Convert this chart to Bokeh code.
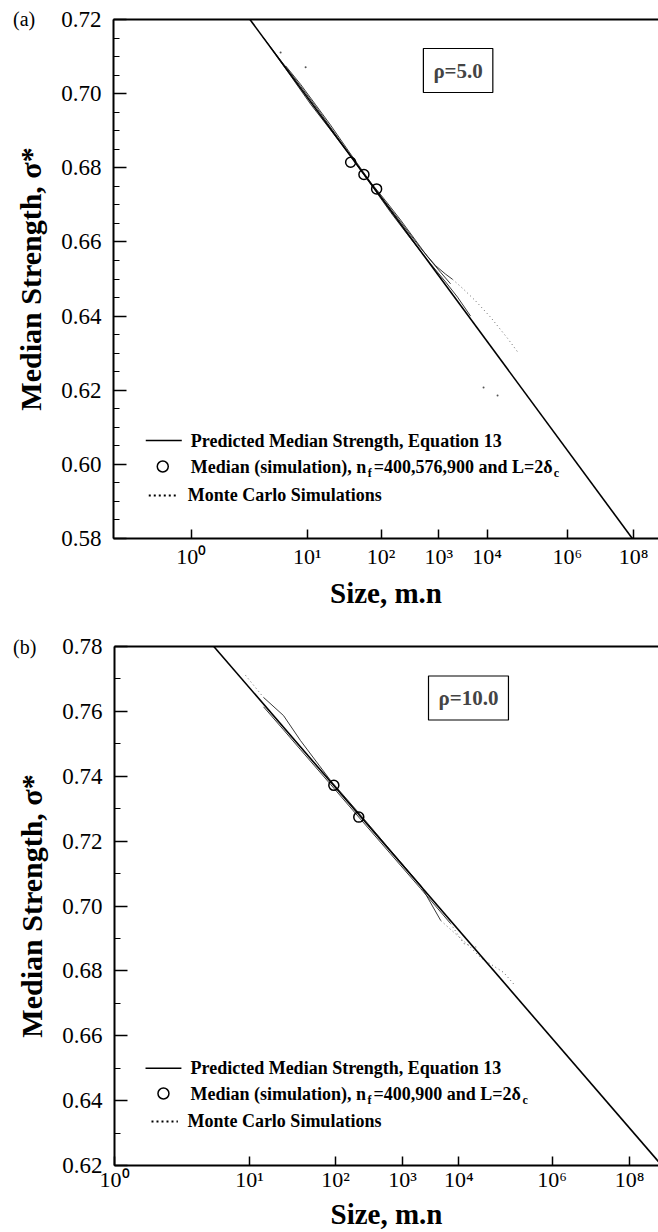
import numpy as np
from bokeh.plotting import figure
from bokeh.layouts import column, row
from bokeh.models import (FixedTicker, CustomJSTickFormatter, SingleIntervalTicker,
                          NumeralTickFormatter, Range1d, LinearAxis, Label, Div)
from bokeh.embed import file_html
from bokeh.resources import INLINE
from bokeh.core.properties import value

SERIF = "Liberation Serif"

# ---------------- data ----------------
tick_exponents = [0, 1, 2, 3, 4, 6, 8]
tick_labels = ["10⁰", "10¹", "10²", "10³", "10⁴", "10⁶", "10⁸"]

# panel (a)  rho = 5.0
a_size_limits = [10 ** -0.343, 10 ** 8.835]
a_strength_limits = [0.58, 0.72]
a_pred_size = [2.66, 9.1e7]
a_pred_strength = [0.72, 0.58]
a_median_size = [35.5, 54.9, 85.1]
a_median_strength = [0.6815, 0.6782, 0.6743]
a_mc1_size = [3.45, 5.15, 8.41, 14.4, 25.9, 49.2, 98.2, 207, 461, 871, 1358, 1866]
a_mc1_strength = [0.7154, 0.7090, 0.7020, 0.6947, 0.6871, 0.6795, 0.6724, 0.6654, 0.6583, 0.6536,
                  0.6513, 0.6499]
a_mc1_tail_size = [1866, 2977, 5593, 11950, 29430, 54020]
a_mc1_tail_strength = [0.6499, 0.6475, 0.6441, 0.6397, 0.6340, 0.6300]
a_mc2_size = [4.11, 6.55, 10.9, 19.2, 35.5, 68.9, 141.5, 306, 702, 1358, 2354, 4379]
a_mc2_strength = [0.7124, 0.7048, 0.6972, 0.6902, 0.6831, 0.6756, 0.6680, 0.6609, 0.6541, 0.6492,
                  0.6451, 0.6400]
a_mc3_size = [5.80, 8.41, 12.54, 19.2, 35.5, 68.9, 117.6, 207, 376, 618, 1086, 1702]
a_mc3_strength = [0.7075, 0.7025, 0.6970, 0.6915, 0.6837, 0.6761, 0.6711, 0.6659, 0.6604, 0.6560,
                  0.6518, 0.6487]
a_mc_scatter_size = [5.15, 9.58, 8353, 17250]
a_mc_scatter_strength = [0.7111, 0.7071, 0.6207, 0.6186]

# panel (b)  rho = 10.0
b_size_limits = [10 ** 0, 10 ** 8.835]
b_strength_limits = [0.62, 0.78]
b_pred_size = [4.70, 6.84e8]
b_pred_strength = [0.78, 0.6212]
b_median_size = [95.0, 211.0]
b_median_strength = [0.7372, 0.7274]
b_mc1_size = [13.9, 22.9, 36, 85.9, 223, 638, 2010, 4590]
b_mc1_strength = [0.7643, 0.7587, 0.7510, 0.7387, 0.7281, 0.7172, 0.7064, 0.6955]
b_mc1_tail_size = [9.16, 13.9]
b_mc1_tail_strength = [0.7711, 0.7643]
b_mc1_tail2_size = [4590, 17000, 26600, 80400, 141000]
b_mc1_tail2_strength = [0.6955, 0.6872, 0.6841, 0.6795, 0.6755]
b_mc2_size = [13.9, 22.9, 36, 85.9, 223, 638, 2010, 6950]
b_mc2_strength = [0.7614, 0.7543, 0.7482, 0.7375, 0.7268, 0.7161, 0.7054, 0.6946]
b_mc2_tail_size = [6950, 12450, 23300]
b_mc2_tail_strength = [0.6946, 0.6884, 0.6872]


# ---------------- size-axis transform of the original figure ----------------
def u_of(size):
    return (np.log10(np.asarray(size, dtype=float)) + 0.5) ** 0.4


def fx(p, f):
    return p.x_range.start + f * (p.x_range.end - p.x_range.start)


def fy(p, f):
    return p.y_range.start + f * (p.y_range.end - p.y_range.start)


def make_panel(width, height, size_limits, strength_limits, n_minor, border_left, border_top,
               border_bottom, x_standoffs):
    lo, hi = u_of(size_limits)
    p = figure(width=width, height=height, output_backend="svg", toolbar_location=None,
               x_range=Range1d(float(lo), float(hi)),
               y_range=Range1d(*strength_limits),
               min_border_left=border_left, min_border_right=0,
               min_border_top=border_top, min_border_bottom=border_bottom)
    p.grid.visible = False
    p.outline_line_color = None
    p.background_fill_color = "white"
    p.border_fill_color = None

    tpos = [float(v) for v in u_of([10.0 ** e for e in tick_exponents])]
    xa = p.xaxis[0]
    xa.ticker = FixedTicker(ticks=tpos, minor_ticks=[])
    xa.formatter = CustomJSTickFormatter(args=dict(tpos=tpos, tlab=tick_labels), code="""
        let best = 0;
        for (let j = 0; j < tpos.length; j++) {
            if (Math.abs(tpos[j] - tick) < Math.abs(tpos[best] - tick)) best = j;
        }
        return tlab[best];
    """)
    xa.axis_label = "Size, m.n"
    ya = p.yaxis[0]
    ya.ticker = SingleIntervalTicker(interval=0.02, num_minor_ticks=n_minor)
    ya.formatter = NumeralTickFormatter(format="0.00")
    ya.axis_label = "Median Strength, σ*"
    for ax in (xa, ya):
        ax.axis_line_width = 2
        ax.axis_line_color = "black"
        ax.major_tick_out = 0
        ax.minor_tick_out = 0
        ax.major_tick_line_width = 1.5
        ax.minor_tick_line_width = 1.2
        ax.major_label_text_font = SERIF
        ax.major_label_text_color = "black"
        ax.axis_label_text_font = SERIF
        ax.axis_label_text_font_style = "bold"
        ax.axis_label_text_color = "black"
    xa.major_tick_in = 9
    xa.major_label_text_font_size = "22px"
    xa.axis_label_text_font_size = "29px"
    xa.major_label_standoff = x_standoffs[0]
    xa.axis_label_standoff = x_standoffs[1]
    ya.major_tick_in = 13
    ya.minor_tick_in = 6
    ya.major_label_text_font_size = "23px"
    ya.axis_label_text_font_size = "30px"
    ya.major_label_standoff = 12
    ya.axis_label_standoff = 11
    ya.major_label_orientation = "horizontal"

    top = LinearAxis(ticker=FixedTicker(ticks=[]), axis_line_width=2, axis_line_color="black",
                     major_tick_line_color=None, minor_tick_line_color=None,
                     major_label_text_font_size="0px", major_label_standoff=0)
    p.add_layout(top, "above")
    return p


def draw_panel(p, pred_s, pred_v, med_s, med_v, mcs, tails, scatter_pts, rho_text, rho_fx, rho_fy,
               rows_fy, leg_fx, med_text_parts):
    # Monte Carlo curves (dense parts)
    for s, v in mcs:
        p.line(u_of(s), v, line_color="#222222", line_width=0.9)
    # Monte Carlo curves (sparse dotted parts)
    for s, v in tails:
        p.line(u_of(s), v, line_color="#666666", line_width=1, line_dash="1 3")
    if scatter_pts is not None:
        p.scatter(u_of(scatter_pts[0]), scatter_pts[1], marker="circle", size=2,
                  fill_color="#555555", line_color=None)
    # predicted line
    p.line(u_of(pred_s), pred_v, line_color="black", line_width=1.6)
    # simulated medians
    p.scatter(u_of(med_s), med_v, marker="circle", size=10, fill_color=None,
              line_color="black", line_width=1.5)

    p.add_layout(Label(x=fx(p, rho_fx), y=fy(p, rho_fy), text=rho_text, text_font=SERIF,
                       text_font_style="bold", text_font_size="21px", text_align="center",
                       text_baseline="middle", border_line_color="black", border_line_width=1.2,
                       background_fill_color="white", padding=10))

    # legend (hand-built)
    x0 = fx(p, leg_fx["text"])
    common = dict(text_font=value(SERIF), text_font_style="bold", text_font_size="18px",
                  text_baseline="middle", text_align="left", text_color="black")
    # row 1
    y1 = fy(p, rows_fy[0])
    p.line([fx(p, leg_fx["line"][0]), fx(p, leg_fx["line"][1])], [y1, y1], line_color="black", line_width=1.4)
    p.text([x0], [y1], text=["Predicted Median Strength, Equation 13"], **common)
    # row 2
    y2 = fy(p, rows_fy[1])
    p.scatter([fx(p, leg_fx["circle"])], [y2], marker="circle", size=11, fill_color=None,
              line_color="black", line_width=1.5)
    for txt, off, sub in med_text_parts:
        if sub:
            p.text([x0], [y2], text=[txt], x_offset=off, y_offset=6,
                   **dict(common, text_font_size="12px"))
        else:
            p.text([x0], [y2], text=[txt], x_offset=off, **common)
    # row 3
    y3 = fy(p, rows_fy[2])
    p.line([fx(p, leg_fx["dots"][0]), fx(p, leg_fx["dots"][1])], [y3, y3], line_color="black",
           line_width=2, line_dash="2 3")
    p.text([fx(p, leg_fx["text3"])], [y3], text=["Monte Carlo Simulations"], **common)


def tag_div(txt, top_pad):
    return Div(text=('<div style="padding:%dpx 0 0 13px;font-family:\'Liberation Serif\';'
                     'font-size:20px;line-height:23px;color:black;white-space:nowrap">%s</div>')
               % (top_pad, txt), width=36, height=50, margin=(0, -36, 0, 0),
               styles={"z-index": "10", "position": "relative", "overflow": "visible"})


pa = make_panel(658, 618, a_size_limits, a_strength_limits, 4, 113, 19, 80, (5, 5))
draw_panel(pa, a_pred_size, a_pred_strength, a_median_size, a_median_strength,
           [(a_mc1_size, a_mc1_strength), (a_mc2_size, a_mc2_strength), (a_mc3_size, a_mc3_strength)],
           [(a_mc1_tail_size, a_mc1_tail_strength)],
           (a_mc_scatter_size, a_mc_scatter_strength),
           "ρ=5.0", 0.6323, 0.9017,
           [0.1888, 0.1387, 0.0829],
           {"text": 0.1418, "line": (0.0592, 0.1253), "circle": 0.0904, "dots": (0.0647, 0.1142),
            "text3": 0.1363},
           [("Median (simulation), n", 0, False), ("f", 177, True),
            ("=400,576,900 and L=2δ", 183, False), ("c", 363, True)])

pb = make_panel(658, 614, b_size_limits, b_strength_limits, 2, 114, 28, 67, (1, 3))
draw_panel(pb, b_pred_size, b_pred_strength, b_median_size, b_median_strength,
           [(b_mc1_size, b_mc1_strength), (b_mc2_size, b_mc2_strength)],
           [(b_mc1_tail_size, b_mc1_tail_strength), (b_mc1_tail2_size, b_mc1_tail2_strength),
            (b_mc2_tail_size, b_mc2_tail_strength)],
           None,
           "ρ=10.0", 0.6507, 0.9008,
           [0.1875, 0.1387, 0.0848],
           {"text": 0.1397, "line": (0.057, 0.123), "circle": 0.090, "dots": (0.068, 0.1165),
            "text3": 0.134},
           [("Median (simulation), n", 0, False), ("f", 177, True),
            ("=400,900 and L=2δ", 183, False), ("c", 332, True)])

layout = column(row(tag_div("(a)", 8), pa, spacing=0),
                row(tag_div("(b)", 18), pb, spacing=0), spacing=0)
open("out.html", "w").write(file_html(layout, INLINE))
